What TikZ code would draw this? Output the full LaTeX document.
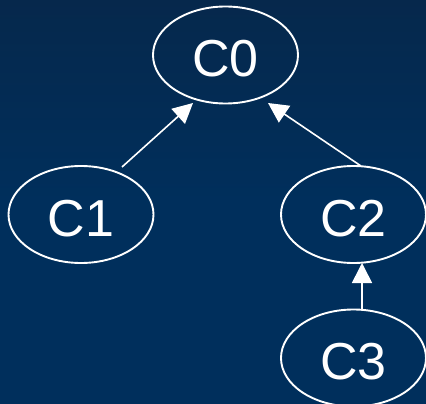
\documentclass[tikz,border=0pt]{standalone}
\usepackage{fontspec}
\setmainfont{Liberation Sans}
\usetikzlibrary{shapes.geometric,arrows.meta}
\definecolor{bgtop}{RGB}{6,40,76}
\definecolor{bgbot}{RGB}{0,47,92}
\tikzset{
  cnode/.style={ellipse, draw=white, line width=1.9pt, text=white, inner sep=0pt,
    minimum width=145pt, minimum height=97pt, text height=43pt, text depth=0pt,
    font=\fontsize{52}{52}\selectfont},
  arr/.style={draw=white, line width=1.6pt, -{Triangle[length=20pt,width=20pt]}, fill=white}
}
\begin{document}
\begin{tikzpicture}[x=1pt,y=-1pt]
\shade[top color=bgtop, bottom color=bgbot, middle color=bgbot] (0,0) rectangle (426,404);
\useasboundingbox (0,0) rectangle (426,404);
\node[cnode] (C0) at (225.5,55) {C0};
\node[cnode] (C1) at (81,214.5) {C1};
\node[cnode] (C2) at (353.5,214.5) {C2};
\node[cnode] (C3) at (353.5,358) {C3};
\draw[arr] ([shift={(41,-47.5)}]C1.center) -- ([shift={(-32.5,48)}]C0.center);
\draw[arr] ([shift={(7.5,-48.5)}]C2.center) -- ([shift={(42.5,48)}]C0.center);
\draw[arr] ([shift={(8.5,-48)}]C3.center) -- ([shift={(8.5,48.5)}]C2.center);
\end{tikzpicture}
\end{document}
